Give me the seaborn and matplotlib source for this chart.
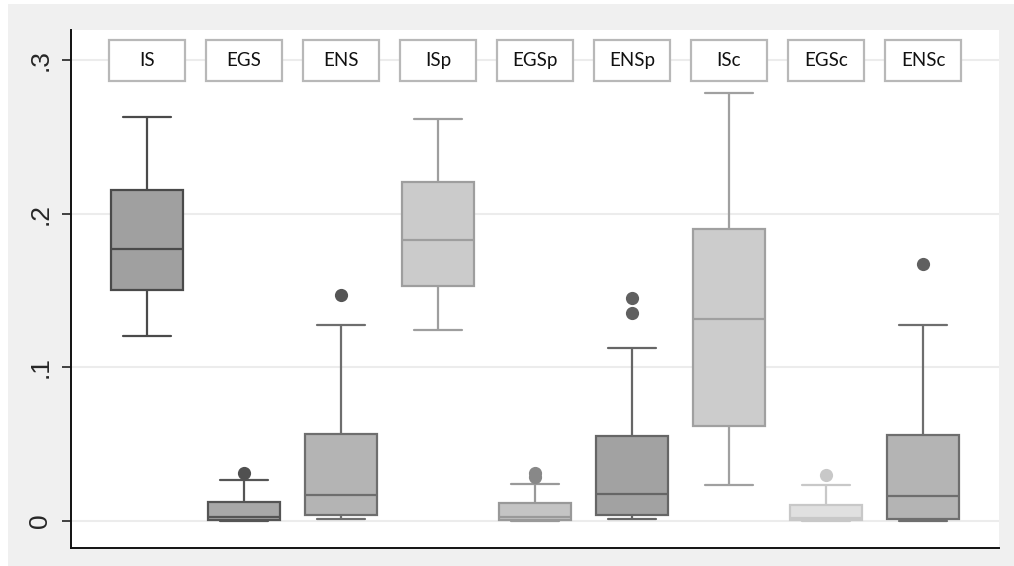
import numpy as np
import pandas as pd
import matplotlib
matplotlib.use("Agg")
import matplotlib.pyplot as plt
import matplotlib.transforms as mtransforms
from matplotlib.patches import Rectangle
import seaborn as sns

# Share measures: five-number summaries per indicator, plus the outside values
categories = ["IS", "EGS", "ENS", "ISp", "EGSp", "ENSp", "ISc", "EGSc", "ENSc"]
whisker_low = [0.120, 0.000, 0.001, 0.124, 0.000, 0.001, 0.023, 0.000, 0.000]
quartile_1 = [0.150, 0.0005, 0.0037, 0.153, 0.0005, 0.004, 0.0616, 0.0003, 0.001]
median = [0.177, 0.0026, 0.0165, 0.1827, 0.0026, 0.0172, 0.1313, 0.002, 0.016]
quartile_3 = [0.215, 0.012, 0.0564, 0.2205, 0.0117, 0.055, 0.190, 0.0104, 0.056]
whisker_high = [0.263, 0.0263, 0.1274, 0.2615, 0.0237, 0.1123, 0.2784, 0.023, 0.1274]
outside_values = [[], [0.0308], [0.1468], [], [0.0285, 0.031], [0.135, 0.145],
                  [], [0.030], [0.167]]

fill_colors = ["#a0a0a0", "#a8a8a8", "#b4b4b4", "#cbcbcb", "#c4c4c4",
               "#a2a2a2", "#cccccc", "#e0e0e0", "#b4b4b4"]
edge_colors = ["#4a4a4a", "#555555", "#6e6e6e", "#9e9e9e", "#999999",
               "#666666", "#a0a0a0", "#c8c8c8", "#6e6e6e"]
dot_colors = ["#4a4a4a", "#505050", "#555555", "#9e9e9e", "#888888",
              "#606060", "#a0a0a0", "#c8c8c8", "#606060"]

y_ticks = [0, 0.1, 0.2, 0.3]
y_tick_labels = ["0", ".1", ".2", ".3"]

sns.set_style("white")
plt.rcParams["font.family"] = ["Liberation Sans", "DejaVu Sans"]

fig = plt.figure(figsize=(10.14, 5.66), dpi=100, facecolor="white")
fig.patches.append(Rectangle((8 / 1014, 0), 1, (566 - 4) / 566,
                             transform=fig.transFigure, facecolor="#f0f0f0",
                             edgecolor="none", zorder=-10))
ax = fig.add_axes([71 / 1014, 18 / 566, 928 / 1014, 518 / 566])
ax.set_facecolor("white")

for i, cat in enumerate(categories):
    summary = pd.DataFrame({
        "indicator": [cat] * 5,
        "value": [whisker_low[i], quartile_1[i], median[i],
                  quartile_3[i], whisker_high[i]],
    })
    sns.boxplot(data=summary, x="indicator", y="value", order=categories,
                color=fill_colors[i], linecolor=edge_colors[i], saturation=1,
                width=0.75, whis=np.inf, linewidth=1.6, capwidths=0.5,
                showfliers=False, ax=ax)
    if outside_values[i]:
        sns.stripplot(x=[cat] * len(outside_values[i]), y=outside_values[i],
                      order=categories, color=dot_colors[i], jitter=False,
                      size=9.5, linewidth=0, ax=ax, zorder=3)

ax.set_xlim(-0.784, 8.784)
ax.set_ylim(-0.0178, 0.3195)
ax.set_xlabel("")
ax.set_ylabel("")
ax.set_xticks([])
ax.set_yticks(y_ticks)
ax.set_yticklabels(y_tick_labels, rotation=90, va="center", ha="right",
                   fontsize=19)
ax.tick_params(axis="y", length=6.5, width=1.2, color="#222222", pad=7,
               left=True)
ax.yaxis.grid(True, color="#ececec", linewidth=1.5)
ax.set_axisbelow(True)
for side in ["top", "right"]:
    ax.spines[side].set_visible(False)
for side in ["left", "bottom"]:
    ax.spines[side].set_color("#111111")
    ax.spines[side].set_linewidth(1.4)

# Indicator name boxes along the top of the plot region
blend = mtransforms.blended_transform_factory(ax.transData, ax.transAxes)
for i, cat in enumerate(categories):
    ax.add_patch(Rectangle((i - 0.39, 0.901), 0.78, 0.079, transform=blend,
                           facecolor="white", edgecolor="#b8b8b8",
                           linewidth=1.6, zorder=5, clip_on=False))
    ax.text(i, 0.9415, cat, transform=blend, ha="center", va="center",
            fontsize=13.5, family=["Lato", "DejaVu Sans"], color="#111111",
            zorder=6)

fig.savefig("out.png", dpi=100, facecolor=fig.get_facecolor())
